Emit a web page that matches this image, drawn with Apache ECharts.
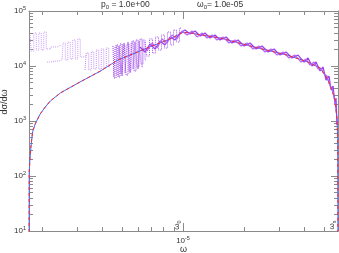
<!DOCTYPE html>
<html><head><meta charset="utf-8">
<script src="https://cdn.jsdelivr.net/npm/echarts@6/dist/echarts.min.js"></script>
<style>html,body{margin:0;padding:0;background:#fff}#c{width:339px;height:253px}</style>
</head><body><div id="c"></div>
<script>
// ---- axis ranges / ticks ----
const X_MIN = 1.728e-6, X_MAX = 5.85e-5;
const Y_MIN = 10, Y_MAX = 1e5;
const OMEGA_0 = 1e-5;
const xMajorTicks = [1e-5];
const xMinorTicks = [2e-6,3e-6,4e-6,5e-6,6e-6,7e-6,8e-6,9e-6,2e-5,3e-5,4e-5,5e-5];
const yMajorTicks = [1e1,1e2,1e3,1e4,1e5];
const yMinorTicks = [2e1,3e1,4e1,5e1,6e1,7e1,8e1,9e1,2e2,3e2,4e2,5e2,6e2,7e2,8e2,9e2,
                     2e3,3e3,4e3,5e3,6e3,7e3,8e3,9e3,2e4,3e4,4e4,5e4,6e4,7e4,8e4,9e4];

// ---- analytic curve (blue / red) ----
const curveOmega = [1.728e-6,1.732e-6,1.748e-6,1.768e-6,1.800e-6,1.853e-6,1.963e-6,2.080e-6,2.203e-6,2.47e-6,
  3.09e-6,3.88e-6,4.50e-6,4.77e-6,5.47e-6,6.63e-6,8.62e-6,1.0e-5,1.083e-5,1.214e-5,1.525e-5,2.22e-5,
  3.27e-5,4.11e-5,4.77e-5,5.16e-5,5.47e-5,5.65e-5,5.79e-5,5.83e-5,5.85e-5];
const curveValue = [1,118,212,351,631,881,1340,1800,2310,3230,5120,8000,1.13e4,1.29e4,1.58e4,2.12e4,3.1e4,
  4.1e4,4.0e4,3.7e4,3.23e4,2.24e4,1.58e4,1.2e4,9.2e3,6.05e3,3.66e3,2.41e3,1.04e3,452,1];

// ---- Monte-Carlo histograms (purple) ----
const bandOmega = [6.12e-6,6.48e-6,6.86e-6,7.27e-6,7.69e-6,8.14e-6,8.62e-6,9.13e-6,9.66e-6,1.023e-5,
  1.083e-5,1.147e-5,1.214e-5,1.285e-5,1.360e-5,1.440e-5,1.525e-5,1.633e-5,1.748e-5,1.872e-5,
  2.005e-5,2.147e-5,2.298e-5,2.461e-5,2.635e-5,2.822e-5,3.021e-5,3.235e-5,3.464e-5,3.710e-5,
  3.972e-5,4.158e-5,4.352e-5,4.555e-5,4.768e-5,4.933e-5,5.105e-5,5.283e-5,5.405e-5,5.530e-5,
  5.655e-5,5.720e-5,5.786e-5];
const bandValue = [2.22e4,1.80e4,2.51e4,2.04e4,2.85e4,2.41e4,3.37e4,2.97e4,3.98e4,4.51e4,
  3.82e4,4.33e4,3.51e4,3.98e4,3.23e4,3.66e4,2.97e4,3.37e4,2.62e4,2.97e4,
  2.31e4,2.62e4,2.04e4,2.31e4,1.80e4,2.04e4,1.58e4,1.80e4,1.40e4,1.58e4,
  1.18e4,1.40e4,1.00e4,1.18e4,8.11e3,9.59e3,5.56e3,6.58e3,3.66e3,4.33e3,
  2.04e3,2.62e3,845];
const band2Omega = [6.266e-6,6.634e-6,7.024e-6,7.437e-6,7.871e-6,8.334e-6,8.822e-6,9.339e-6,9.886e-6,1.047e-5,
  1.108e-5,1.173e-5,1.242e-5,1.315e-5,1.392e-5,1.473e-5,1.578e-5,1.690e-5,1.809e-5,1.937e-5,
  2.074e-5,2.221e-5,2.378e-5,2.547e-5,2.727e-5,2.920e-5,3.126e-5,3.348e-5,3.585e-5,3.839e-5,
  4.063e-5,4.253e-5,4.451e-5,4.660e-5,4.822e-5,4.989e-5,5.164e-5,5.344e-5,5.467e-5,5.591e-5,5.720e-5];
const band2Value = [2.12e4,1.87e4,2.62e4,2.12e4,3.10e4,2.62e4,3.66e4,3.10e4,4.33e4,3.66e4,
  4.33e4,3.37e4,3.98e4,3.23e4,3.66e4,2.97e4,3.37e4,2.62e4,2.97e4,2.31e4,
  2.62e4,2.04e4,2.31e4,1.80e4,2.04e4,1.58e4,1.80e4,1.40e4,1.58e4,1.18e4,
  1.34e4,1.04e4,1.18e4,8.82e3,9.20e3,7.16e3,6.58e3,4.33e3,3.98e3,2.73e3,1.72e3];
const spikeOmega = [6.48e-6,6.71e-6,6.94e-6,7.19e-6,7.44e-6,7.69e-6,7.96e-6,8.24e-6,8.53e-6,8.82e-6,9.13e-6,9.45e-6,9.77e-6];
const spikeValue = [2.73e4,1.52e4,3.10e4,1.72e4,3.37e4,1.95e4,3.66e4,2.12e4,4.15e4,2.41e4,4.51e4,2.73e4,4.91e4];
const blockOmega = [4.50e-6,4.607e-6,4.713e-6,4.822e-6,4.933e-6,5.047e-6,5.163e-6,5.282e-6,5.404e-6,5.528e-6,
  5.656e-6,5.786e-6,5.920e-6,6.056e-6,6.196e-6,6.339e-6];
const blockValue = [2.31e4,6.05e3,2.41e4,6.31e3,2.51e4,6.58e3,2.62e4,6.86e3,2.73e4,7.46e3,2.85e4,8.11e3,2.97e4,8.82e3,3.10e4,9.59e3];
const block2Omega = [4.554e-6,4.660e-6,4.768e-6,4.878e-6,4.989e-6,5.104e-6,5.222e-6,5.342e-6,5.466e-6,5.592e-6,
  5.721e-6,5.852e-6,5.987e-6,6.125e-6,6.266e-6,6.411e-6,6.559e-6];
const block2Value = [6.58e3,2.22e4,6.86e3,2.31e4,7.16e3,2.41e4,7.46e3,2.51e4,8.11e3,2.62e4,8.82e3,2.73e4,9.59e3,2.85e4,1.09e4,2.97e4,1.29e4];
const c1Omega = [1.748e-6,1.799e-6,1.851e-6,1.905e-6,1.959e-6,2.016e-6,2.074e-6,2.134e-6,2.298e-6,2.489e-6];
const c1Value = [3.66e4,1.87e4,3.98e4,1.95e4,3.98e4,1.95e4,4.15e4,2.04e4,2.22e4,2.41e4];
const c2Omega = [2.122e-6,2.324e-6,2.518e-6,2.576e-6,2.651e-6,2.727e-6,2.805e-6,2.887e-6,2.971e-6,3.057e-6,3.145e-6,3.349e-6];
const c2Value = [1.18e4,1.23e4,1.29e4,2.62e4,1.29e4,2.73e4,1.34e4,2.97e4,1.34e4,3.10e4,1.46e4,1.58e4];
const c3Omega = [3.272e-6,3.366e-6,3.464e-6,3.565e-6,3.667e-6,3.774e-6,3.883e-6,3.995e-6,4.111e-6,4.229e-6,4.351e-6];
const c3Value = [8.46e3,1.72e4,8.46e3,1.80e4,8.82e3,1.95e4,8.82e3,2.04e4,9.20e3,2.12e4,9.59e3];

// ---- texts ----
const titleP = '{t|p}{u|0}{t| = 1.0e+00}';
const titleW = '{t|ω}{u|0}{t|= 1.0e-05}';
const yName = 'dσ/dω';
const xName = 'ω';

const F = 'Liberation Sans, Arial, sans-serif';
const AX = '#8a8a8a', TXT = '#333';
const L = Math.log10;
const zip = (a, b) => a.map((v, i) => [v, b[i]]);

const supRich = {
  b: {fontSize: 8, fontFamily: F, color: TXT, lineHeight: 11},
  s: {fontSize: 5.5, fontFamily: F, color: TXT, verticalAlign: 'top', lineHeight: 6}
};

function tickAxis(pos, min, max, ticks, len, opts) {
  opts = opts || {};
  const a = {
    type: 'value', position: pos, min: min, max: max, gridIndex: 0,
    axisLine: {show: !!opts.line, onZero: false, lineStyle: {color: AX, width: 1}},
    axisTick: {show: true, inside: true, length: len, customValues: ticks.map(L), lineStyle: {color: AX, width: 1}},
    axisLabel: {show: false},
    splitLine: {show: false}
  };
  if (opts.labels) {
    a.axisLabel = {show: true, customValues: ticks.map(L), margin: opts.margin, rich: supRich,
      formatter: v => '{b|10}{s|' + Math.round(v) + '}'};
  }
  return a;
}

const xl0 = L(X_MIN), xl1 = L(X_MAX), yl0 = L(Y_MIN), yl1 = L(Y_MAX);

function mc(name, om, va, color, dotted, width, step) {
  return {type: 'line', name: name, data: zip(om, va), step: step ? 'middle' : false, showSymbol: false, clip: true,
    lineStyle: {color: color, width: width, type: dotted ? 'dotted' : 'solid'}};
}

const option = {
  animation: false,
  backgroundColor: '#fff',
  grid: {left: 29, top: 11, right: 1, bottom: 22, containLabel: false, outerBoundsMode: 'none'},
  xAxis: [
    {type: 'log', logBase: 10, min: X_MIN, max: X_MAX, position: 'bottom',
     axisLine: {show: true, onZero: false, lineStyle: {color: AX}}, axisTick: {show: false},
     axisLabel: {show: false}, splitLine: {show: false},
     name: xName, nameLocation: 'middle', nameGap: 14,
     nameTextStyle: {fontFamily: F, fontSize: 9, color: TXT}},
    tickAxis('bottom', xl0, xl1, xMinorTicks, 4),
    tickAxis('bottom', xl0, xl1, xMajorTicks, 8, {labels: true, margin: 4}),
    tickAxis('top', xl0, xl1, xMinorTicks, 4, {line: true}),
    tickAxis('top', xl0, xl1, xMajorTicks, 8)
  ],
  yAxis: [
    {type: 'log', logBase: 10, min: Y_MIN, max: Y_MAX, position: 'left',
     axisLine: {show: true, onZero: false, lineStyle: {color: AX}}, axisTick: {show: false},
     axisLabel: {show: false}, splitLine: {show: false}},
    tickAxis('left', yl0, yl1, yMinorTicks, 4),
    tickAxis('left', yl0, yl1, yMajorTicks, 7, {labels: true, margin: 3}),
    tickAxis('right', yl0, yl1, yMinorTicks, 4, {line: true}),
    tickAxis('right', yl0, yl1, yMajorTicks, 7)
  ],
  series: [
    mc('mc1', c1Omega, c1Value, '#c99cf2', true, 1, true),
    mc('mc2', c2Omega, c2Value, '#c99cf2', true, 1, true),
    mc('mc3', c3Omega, c3Value, '#c08ef0', true, 1, true),
    mc('block', blockOmega, blockValue, '#9438e6', true, 1, true),
    mc('block2', block2Omega, block2Value, '#a552ee', true, 1, true),
    mc('spike', spikeOmega, spikeValue, '#a455ee', true, 1, true),
    {type: 'line', name: 'curveBlue', data: zip(curveOmega, curveValue), showSymbol: false, clip: true,
     lineStyle: {color: '#4a6cff', width: 1},
     markLine: {symbol: 'none', silent: true, label: {show: false},
       lineStyle: {color: '#7a7a7a', type: [4, 3], width: 1},
       data: [{xAxis: OMEGA_0}]}},
    mc('band', bandOmega, bandValue, '#9a3cf0', false, 1.2, false),
    mc('band2', band2Omega, band2Value, '#b46af2', false, 1.2, false),
    {type: 'line', name: 'curveRed', data: zip(curveOmega, curveValue), showSymbol: false, clip: true,
     lineStyle: {color: '#ff2a2a', width: 1, type: [3, 3]}}
  ],
  graphic: [
    {type: 'text', left: 101, top: 0, style: {text: titleP, rich: {
      t: {fontSize: 8.5, fontFamily: F, fill: TXT, lineHeight: 12},
      u: {fontSize: 6, fontFamily: F, fill: TXT, verticalAlign: 'bottom', lineHeight: 9}}}},
    {type: 'text', left: 197, top: 0, style: {text: titleW, rich: {
      t: {fontSize: 8.5, fontFamily: F, fill: TXT, lineHeight: 12},
      u: {fontSize: 6, fontFamily: F, fill: TXT, verticalAlign: 'bottom', lineHeight: 9}}}},
    {type: 'text', x: 5, y: 102, rotation: Math.PI / 2,
     style: {text: yName, fontSize: 9, fontFamily: F, fill: TXT, align: 'center', verticalAlign: 'middle'}},
    {type: 'text', x: 177, y: 225, rotation: Math.PI / 2,
     style: {text: '{t|ω}{u|0}', align: 'center', verticalAlign: 'middle', rich: {
       t: {fontSize: 8, fontFamily: F, fill: TXT, lineHeight: 10},
       u: {fontSize: 5.5, fontFamily: F, fill: TXT, verticalAlign: 'bottom', lineHeight: 8}}}},
    {type: 'text', x: 332, y: 225, rotation: Math.PI / 2,
     style: {text: '{t|ω}{u|s}', align: 'center', verticalAlign: 'middle', rich: {
       t: {fontSize: 8, fontFamily: F, fill: TXT, lineHeight: 10},
       u: {fontSize: 5.5, fontFamily: F, fill: TXT, verticalAlign: 'bottom', lineHeight: 8}}}}
  ]
};

const chart = echarts.init(document.getElementById('c'), null, {renderer: 'canvas'});
chart.setOption(option);
</script>
</body></html>
